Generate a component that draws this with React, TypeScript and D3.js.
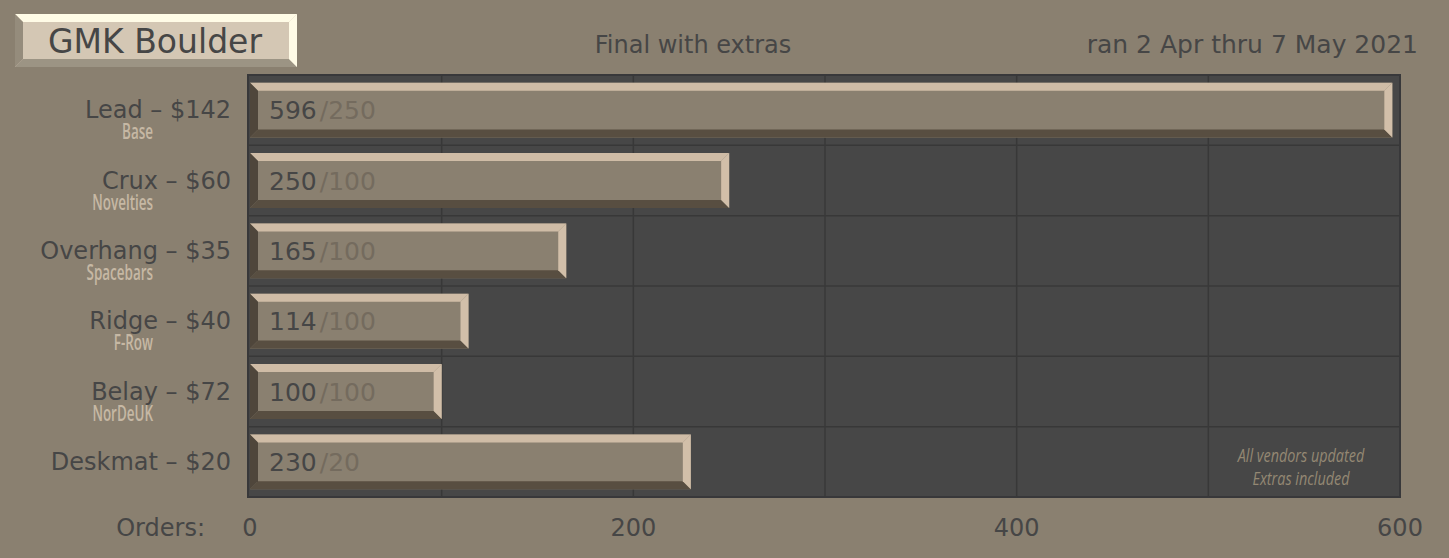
import * as d3 from 'd3';

const W = 1449;
const H = 558;

const categories = ['Lead – $142', 'Crux – $60', 'Overhang – $35', 'Ridge – $40', 'Belay – $72', 'Deskmat – $20'];
const subLabels = ['Base', 'Novelties', 'Spacebars', 'F-Row', 'NorDeUK', ''];
const orders = [596, 250, 165, 114, 100, 230];
const minimums = [250, 100, 100, 100, 100, 20];
const ticks = [0, 200, 400, 600];
const gridTicks = [100, 200, 300, 400, 500];
const notes = ['All vendors updated', 'Extras included'];

const BG = '#8a8070';
const PLOT = '#474747';
const DARK_TEXT = '#464646';
const MAIN_FONT = '"DejaVu Sans", sans-serif';
const NARROW_FONT = '"Open Sans", sans-serif';

const plot = { left: 248, right: 1400, top: 75, bottom: 497 };

type BevelColors = { top: string; right: string; bottom: string; left: string; face: string };

const pts = (p: number[][]) => p.map(d => d.join(',')).join(' ');

const Bevel = ({ x0, y0, x1, y1, b, c }: { x0: number; y0: number; x1: number; y1: number; b: number; c: BevelColors }) => (
  <g>
    <rect x={x0} y={y0} width={x1 - x0} height={y1 - y0} fill={c.face} />
    <polygon points={pts([[x0, y0], [x1, y0], [x1 - b, y0 + b], [x0 + b, y0 + b]])} fill={c.top} />
    <polygon points={pts([[x0, y1], [x1, y1], [x1 - b, y1 - b], [x0 + b, y1 - b]])} fill={c.bottom} />
    <polygon points={pts([[x0, y0], [x0 + b, y0 + b], [x0 + b, y1 - b], [x0, y1]])} fill={c.left} />
    <polygon points={pts([[x1, y0], [x1, y1], [x1 - b, y1 - b], [x1 - b, y0 + b]])} fill={c.right} />
  </g>
);

const barColors: BevelColors = { top: '#cfbca6', right: '#d2bfa9', bottom: '#584e41', left: '#4f463b', face: '#8a8070' };
const titleColors: BevelColors = { top: '#fffbe6', right: '#fffbe6', bottom: '#9c9484', left: '#958c7c', face: '#d4c7b4' };

// condensed text: a normal font squeezed horizontally
const Narrow = ({ x, y, anchor, size, fill, italic, sx, weight, children }: any) => (
  <text
    transform={`translate(${x},${y}) scale(${sx},1)`}
    textAnchor={anchor}
    fontFamily={NARROW_FONT}
    fontStyle={italic ? 'italic' : 'normal'}
    fontWeight={weight || 'normal'}
    fontSize={size}
    fill={fill}
  >
    {children}
  </text>
);

export default function App() {
  const x = d3.scaleLinear().domain([0, 600]).range([250, 1400]);
  const y = d3.scaleBand<string>().domain(categories).range([plot.top, plot.bottom]).paddingInner(0.22).paddingOuter(0.11);
  const band = d3.scaleBand<string>().domain(categories).range([plot.top, plot.bottom]);

  return (
    <svg width={W} height={H} style={{ position: 'absolute', left: 0, top: 0 }}>
      <rect width={W} height={H} fill={BG} />

      {/* title box */}
      <Bevel x0={15} y0={14} x1={297} y1={67} b={8} c={titleColors} />
      <text x={155} y={53} textAnchor="middle" fontFamily={MAIN_FONT} fontSize={33} fill={DARK_TEXT}>GMK Boulder</text>
      <text x={693} y={53} textAnchor="middle" fontFamily={MAIN_FONT} fontSize={24} fill={DARK_TEXT}>Final with extras</text>
      <text x={1418} y={53} textAnchor="end" fontFamily={MAIN_FONT} fontSize={25} fill={DARK_TEXT}>ran 2 Apr thru 7 May 2021</text>

      {/* plot area */}
      <rect x={plot.left} y={plot.top} width={plot.right - plot.left} height={plot.bottom - plot.top} fill={PLOT} stroke="#38383a" strokeWidth={2} />
      {gridTicks.map(t => (
        <line key={t} x1={x(t)} x2={x(t)} y1={plot.top} y2={plot.bottom} stroke="#383838" strokeWidth={1.5} />
      ))}
      {categories.slice(1).map(c => (
        <line key={c} x1={plot.left} x2={plot.right} y1={band(c)!} y2={band(c)!} stroke="#383838" strokeWidth={1.5} />
      ))}

      {/* bars */}
      {categories.map((c, i) => {
        const y0 = y(c)!;
        const y1 = y0 + y.bandwidth();
        const cy = (y0 + y1) / 2;
        return (
          <g key={c}>
            <Bevel x0={x(0)} y0={y0} x1={x(orders[i])} y1={y1} b={8} c={barColors} />
            <text x={x(0) + 19} y={cy + 9} fontFamily={MAIN_FONT} fontSize={25} fill={DARK_TEXT}>
              {orders[i]}
              <tspan fill="#746b5e" dx={3}>/{minimums[i]}</tspan>
            </text>
          </g>
        );
      })}

      {/* category labels */}
      {categories.map((c, i) => {
        const cy = band(c)! + band.bandwidth() / 2;
        return (
          <g key={c}>
            <text x={231} y={cy + 8} textAnchor="end" fontFamily={MAIN_FONT} fontSize={24} fill={DARK_TEXT}>{c}</text>
            <Narrow x={153} y={cy + 29} anchor="end" size={21} sx={0.64} weight={600} fill="#c6b8a4">{subLabels[i]}</Narrow>
          </g>
        );
      })}

      {/* notes */}
      {notes.map((n, i) => (
        <Narrow key={n} x={1301} y={462 + i * 23} anchor="middle" size={18} sx={0.8} italic fill="#948873">{n}</Narrow>
      ))}

      {/* x axis */}
      <text x={205} y={536} textAnchor="end" fontFamily={MAIN_FONT} fontSize={24} fill={DARK_TEXT}>Orders:</text>
      {ticks.map(t => (
        <text key={t} x={x(t)} y={536} textAnchor="middle" fontFamily={MAIN_FONT} fontSize={24} fill={DARK_TEXT}>{t}</text>
      ))}
    </svg>
  );
}
